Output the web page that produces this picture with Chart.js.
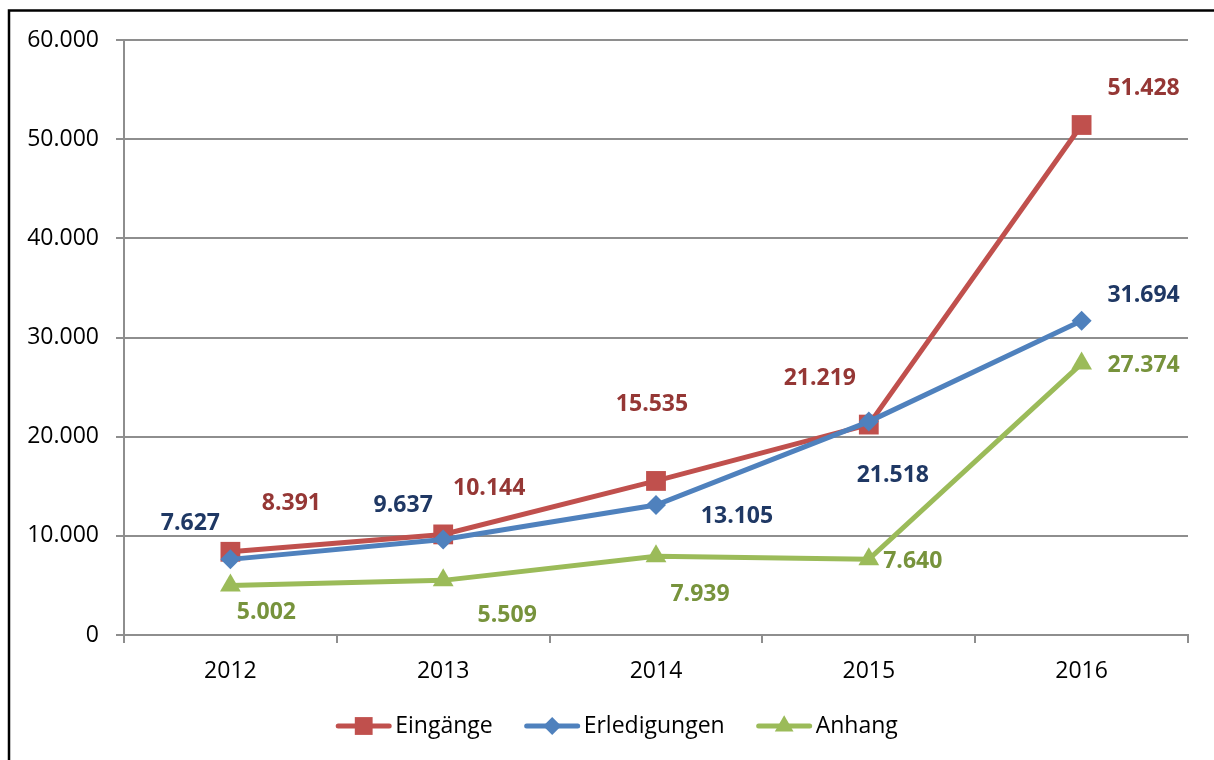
<!DOCTYPE html>
<html>
<head>
<meta charset="utf-8">
<script src="https://cdn.jsdelivr.net/npm/chart.js@4/dist/chart.umd.min.js"></script>
<style>
  html, body { margin: 0; padding: 0; background: #fff; }
  #wrap { width: 1214px; height: 760px; }
</style>
</head>
<body>
<div id="wrap"><canvas id="c" width="1214" height="760"></canvas></div>
<script>
// ---- data ----
const years = ['2012', '2013', '2014', '2015', '2016'];
const eingaenge = [8391, 10144, 15535, 21219, 51428];
const erledigungen = [7627, 9637, 13105, 21518, 31694];
const anhang = [5002, 5509, 7939, 7640, 27374];
const seriesNames = ['Eingänge', 'Erledigungen', 'Anhang'];
const yTicks = [0, 10000, 20000, 30000, 40000, 50000, 60000];

// ---- label placement (pixel offsets from each point) ----
const offE = [[61, -48], [46, -46], [-4, -76], [-49, -46], [62, -37]];
const offR = [[-40, -36], [-40, -34], [81, 11], [24, 54], [62, -25]];
const offA = [[36, 27], [64, 35], [44, 38], [44, 2], [62, 2]];

const FONT = "'Open Sans', 'Liberation Sans', sans-serif";

function fmt(v) {
  const s = String(Math.round(v));
  return s.replace(/\B(?=(\d{3})+(?!\d))/g, '.');
}

const framePlugin = {
  id: 'frame',
  beforeDraw(chart) {
    const ctx = chart.ctx;
    ctx.save();
    ctx.fillStyle = '#fff';
    ctx.fillRect(0, 0, chart.width, chart.height);
    ctx.strokeStyle = '#000';
    ctx.lineWidth = 2.5;
    ctx.strokeRect(9, 10.5, chart.width + 40, chart.height + 40);
    ctx.restore();
  }
};

const labelPlugin = {
  id: 'valueLabels',
  afterDatasetsDraw(chart) {
    const ctx = chart.ctx;
    ctx.save();
    ctx.font = "bold 23px " + FONT;
    ctx.textAlign = 'center';
    ctx.textBaseline = 'middle';
    chart.data.datasets.forEach((ds, i) => {
      const meta = chart.getDatasetMeta(i);
      meta.data.forEach((el, j) => {
        const o = ds.labelOffsets[j];
        ctx.fillStyle = ds.labelColor;
        ctx.fillText(fmt(ds.data[j]), el.x + o[0], el.y + o[1]);
      });
    });
    ctx.restore();
  }
};

function drawMarker(ctx, style, r, x, y) {
  if (style === 'rect') {
    const s = Math.SQRT1_2 * r;
    ctx.rect(x - s, y - s, 2 * s, 2 * s);
  } else if (style === 'rectRot') {
    ctx.moveTo(x - r, y); ctx.lineTo(x, y - r); ctx.lineTo(x + r, y); ctx.lineTo(x, y + r); ctx.closePath();
  } else {
    const a = 2 * Math.PI / 3;
    ctx.moveTo(x, y - r);
    ctx.lineTo(x + Math.sin(a) * r, y - Math.cos(a) * r);
    ctx.lineTo(x + Math.sin(2 * a) * r, y - Math.cos(2 * a) * r);
    ctx.closePath();
  }
}

const legendPlugin = {
  id: 'customLegend',
  afterDraw(chart) {
    const ctx = chart.ctx;
    ctx.save();
    ctx.font = "23px " + FONT;
    const lineLen = 55, textGap = 4, itemGap = 32;
    const items = chart.data.datasets.map(ds => ({ ds, w: ctx.measureText(ds.label).width }));
    let total = 0;
    items.forEach((it, i) => { total += lineLen + textGap + it.w + (i < items.length - 1 ? itemGap : 0); });
    let x = 617 - total / 2;
    const y = 726;
    items.forEach(it => {
      const ds = it.ds;
      ctx.strokeStyle = ds.borderColor;
      ctx.lineWidth = 5;
      ctx.lineCap = 'round';
      ctx.beginPath();
      ctx.moveTo(x + 2, y);
      ctx.lineTo(x + lineLen - 2, y);
      ctx.stroke();
      ctx.fillStyle = ds.borderColor;
      ctx.beginPath();
      drawMarker(ctx, ds.pointStyle, ds.pointRadius * 0.9, x + lineLen / 2, y);
      ctx.fill();
      ctx.fillStyle = '#000';
      ctx.textAlign = 'left';
      ctx.textBaseline = 'middle';
      ctx.fillText(ds.label, x + lineLen + textGap, y);
      x += lineLen + textGap + it.w + itemGap;
    });
    ctx.restore();
  }
};

const GRID = '#8e8e8e';

new Chart(document.getElementById('c'), {
  type: 'line',
  data: {
    labels: years,
    datasets: [
      {
        label: seriesNames[0], data: eingaenge,
        borderColor: '#C0504D', backgroundColor: '#C0504D',
        pointStyle: 'rect', pointRadius: 14, pointBorderWidth: 0,
        borderWidth: 5, order: 1, labelColor: '#953735', labelOffsets: offE
      },
      {
        label: seriesNames[1], data: erledigungen,
        borderColor: '#4F81BD', backgroundColor: '#4F81BD',
        pointStyle: 'rectRot', pointRadius: 10, pointBorderWidth: 0,
        borderWidth: 5, order: 0, labelColor: '#1F3864', labelOffsets: offR
      },
      {
        label: seriesNames[2], data: anhang,
        borderColor: '#9BBB59', backgroundColor: '#9BBB59',
        pointStyle: 'triangle', pointRadius: 12, pointBorderWidth: 0,
        borderWidth: 5, order: 2, labelColor: '#77933C', labelOffsets: offA
      }
    ]
  },
  options: {
    responsive: false,
    animation: false,
    devicePixelRatio: 1,
    layout: { padding: { top: 40, left: 8, right: 26, bottom: 0 } },
    plugins: { legend: { display: false }, tooltip: { enabled: false } },
    elements: { line: { tension: 0 } },
    scales: {
      x: {
        offset: true,
        grid: { offset: true, drawOnChartArea: false, drawTicks: true, tickLength: 8, color: GRID, lineWidth: 2 },
        border: { display: true, color: GRID, width: 2 },
        ticks: { color: '#000', font: { family: FONT, size: 23 }, padding: 15, maxRotation: 0 },
        afterFit(s) { s.height = 125; }
      },
      y: {
        min: 0, max: 60000,
        afterBuildTicks(s) { s.ticks = yTicks.map(v => ({ value: v })); },
        grid: { color: GRID, lineWidth: 2, drawTicks: true, tickLength: 8 },
        border: { display: true, color: GRID, width: 2 },
        ticks: { color: '#000', font: { family: FONT, size: 23 }, padding: 17, callback: v => fmt(v) },
        afterFit(s) { s.width = 116; }
      }
    }
  },
  plugins: [framePlugin, labelPlugin, legendPlugin]
});
</script>
</body>
</html>
